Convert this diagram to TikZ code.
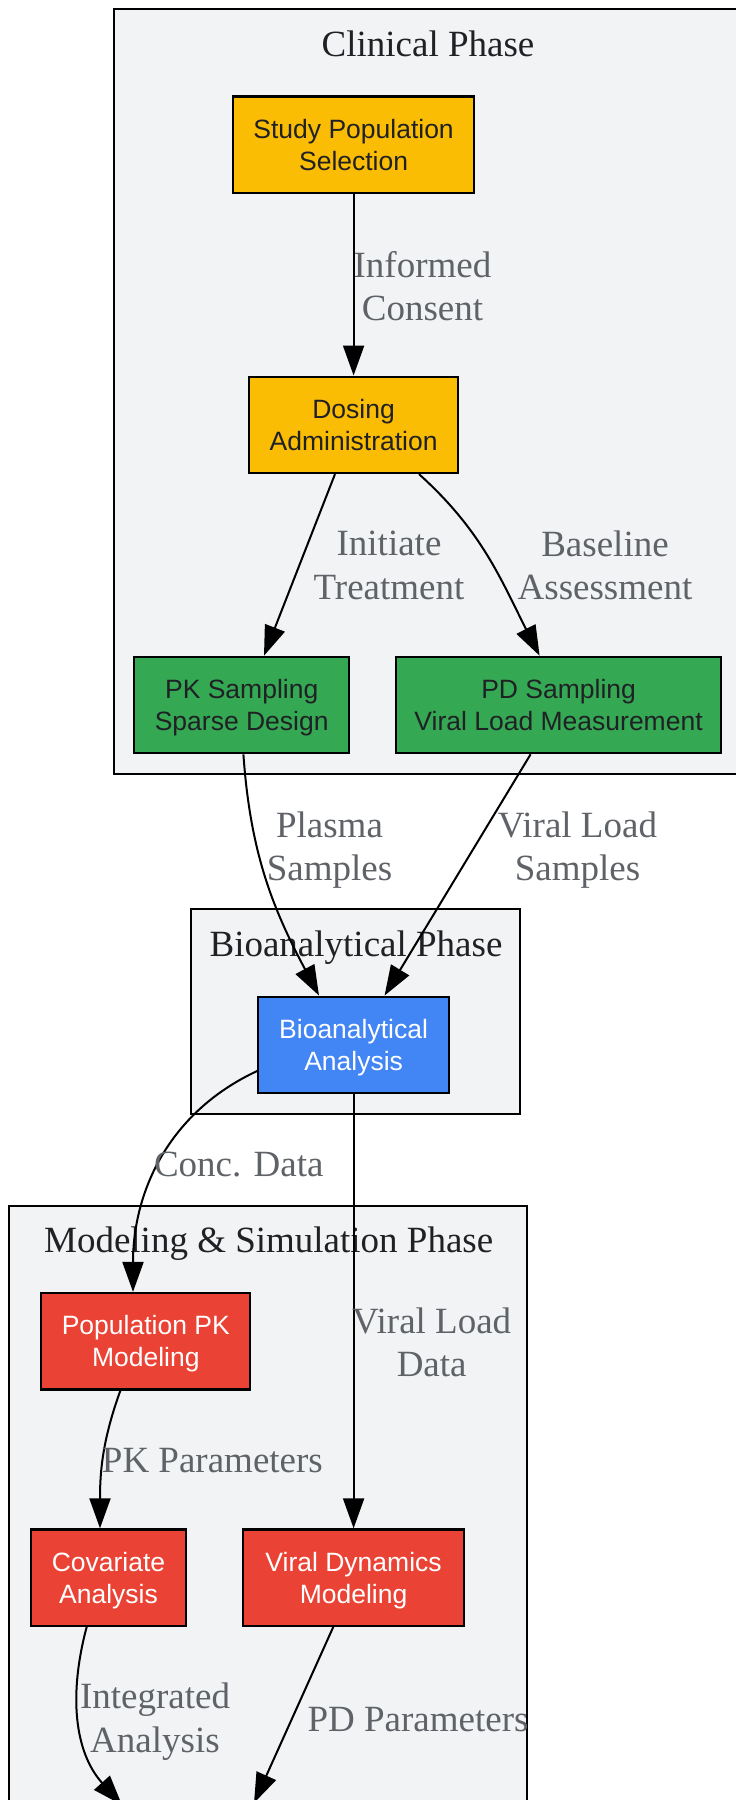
\documentclass[tikz,border=0pt]{standalone}
\usepackage{fontspec}
\setmainfont{Liberation Serif}
\newfontfamily\boxfont{Liberation Sans}
\usetikzlibrary{arrows.meta}
\definecolor{gyellow}{HTML}{FBBC04}
\definecolor{ggreen}{HTML}{34A853}
\definecolor{gblue}{HTML}{4285F4}
\definecolor{gred}{HTML}{EA4335}
\definecolor{clusterbg}{HTML}{F1F3F4}
\definecolor{labelgray}{HTML}{5F6368}
\definecolor{darktext}{HTML}{202124}
\tikzset{box/.style={draw=black,line width=2.2pt,inner sep=0pt,align=center,text depth=0pt,
    minimum height=96.4pt,font=\boxfont\fontsize{26.5}{32}\selectfont}}

\begin{document}
\begin{tikzpicture}[
            x=1pt,y=-1pt,
            cluster/.style={draw=black,line width=2pt,fill=clusterbg},
            phase/.style={text=darktext,inner sep=0pt,text depth=0pt,font=\fontsize{37}{44}\selectfont},
            elabel/.style={text=labelgray,align=center,inner sep=0pt,text depth=0pt,font=\fontsize{37}{43.6}\selectfont},
            flow/.style={draw,line width=2pt,-{Triangle[length=30pt,width=21pt]}},
            clinbox/.style={box,fill=gyellow,text=darktext},
            sampbox/.style={box,fill=ggreen,text=darktext},
            labbox/.style={box,fill=gblue,text=white},
            modbox/.style={box,fill=gred,text=white}
            ]
            \useasboundingbox (0,0) rectangle (736,1800);
            \clip (0,0) rectangle (736,1800);
            \fill[white] (0,0) rectangle (736,1800);

            % phases
            \draw[cluster] (113.7,9.2) rectangle (741.7,774);
            \draw[cluster] (190.6,909.4) rectangle (520,1113.8);
            \draw[cluster] (9.2,1205.6) rectangle (527,1900);
            \node[phase] (clinical) at (428,43.6) {Clinical Phase};
            \node[phase] (bioanalytical) at (356,944) {Bioanalytical Phase};
            \node[phase] (modeling) at (268.7,1240) {Modeling \& Simulation Phase};

            % steps
            \node[clinbox,minimum width=241pt] (study) at (353.6,144.6) {Study Population\\Selection};
            \node[clinbox,minimum width=209pt] (dosing) at (353.6,424.8) {Dosing\\Administration};
            \node[sampbox,minimum width=214.7pt] (pk) at (241.7,705) {PK Sampling\\Sparse Design};
            \node[sampbox,minimum width=325pt] (pd) at (558.6,705) {PD Sampling\\Viral Load Measurement};
            \node[labbox,minimum width=190.7pt] (bio) at (353.6,1044.8) {Bioanalytical\\Analysis};
            \node[modbox,minimum width=209pt] (poppk) at (145.8,1341.2) {Population PK\\Modeling};
            \node[modbox,minimum width=155pt] (cov) at (108.5,1577.6) {Covariate\\Analysis};
            \node[modbox,minimum width=220.5pt] (viral) at (353.6,1577.6) {Viral Dynamics\\Modeling};
            \coordinate (integrated) at (122,1805);
            \coordinate (pdparams) at (254,1803);

            % connectors
            \draw[flow] (study.south) -- (dosing.north);
            \draw[flow] ([xshift=-18.6pt]dosing.south) -- ([xshift=22.3pt]pk.north);
            \draw[flow] ([xshift=65.4pt]dosing.south) to[out=-42,in=117] ([xshift=-19pt]pd.north);
            \draw[flow] ([xshift=1.7pt]pk.south) to[out=-86,in=118] ([xshift=-34.6pt]bio.north);
            \draw[flow] ([xshift=-28pt]pd.south) -- ([xshift=31pt]bio.north);
            \draw[flow] ([yshift=-26.2pt]bio.west) to[out=-155,in=90] ([xshift=-12.8pt]poppk.north);
            \draw[flow] (bio.south) -- (viral.north);
            \draw[flow] ([xshift=-25.4pt]poppk.south) to[out=-110,in=90] ([xshift=-8.5pt]cov.north);
            \draw[flow] ([xshift=-21.8pt]cov.south) to[out=-105,in=132] (integrated);
            \draw[flow] ([xshift=-20.3pt]viral.south) -- (pdparams);

            % edge labels
            \node[elabel] (consent) at (422.5,285.8) {Informed\\Consent};
            \node[elabel] (initiate) at (389,565) {Initiate\\Treatment};
            \node[elabel] (baseline) at (605,565) {Baseline\\Assessment};
            \node[elabel] (plasma) at (329.5,846) {Plasma\\Samples};
            \node[elabel] (vlsamples) at (577.5,846) {Viral Load\\Samples};
            \node[elabel] (conc) at (238.8,1164.3) {Conc. Data};
            \node[elabel] (vldata) at (431.7,1342) {Viral Load\\Data};
            \node[elabel] (pkparams) at (212.4,1460.5) {PK Parameters};
            \node[elabel] (intlabel) at (155,1717.7) {Integrated\\Analysis};
            \node[elabel] (pdlabel) at (418,1719) {PD Parameters};
        \end{tikzpicture}
\end{document}
